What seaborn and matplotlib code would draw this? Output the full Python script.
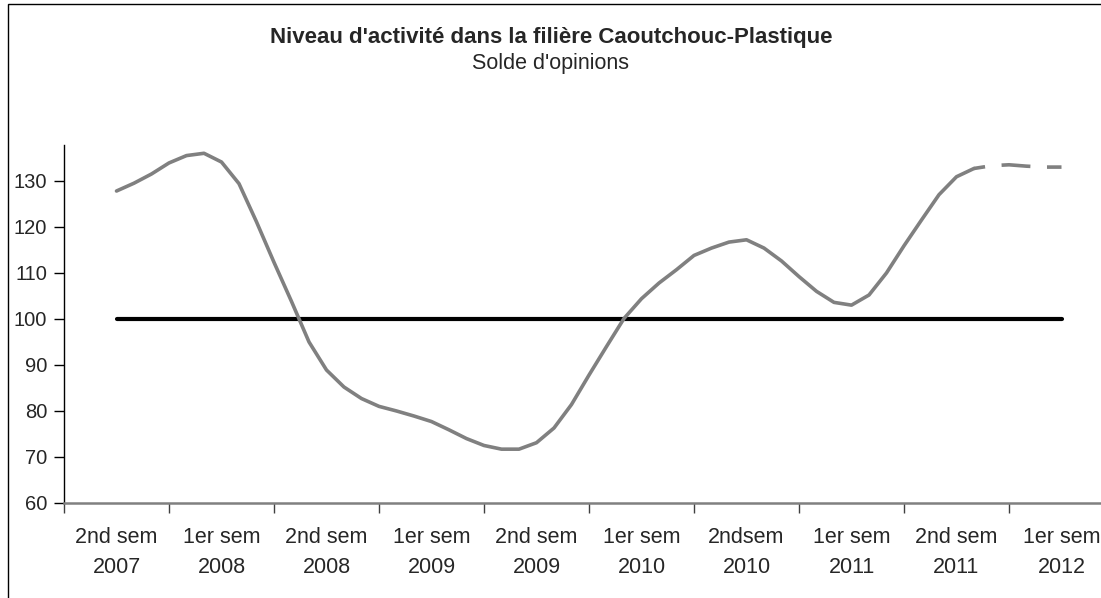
import numpy as np
import pandas as pd
import matplotlib
matplotlib.use("Agg")
import matplotlib.pyplot as plt
import seaborn as sns
from matplotlib.patches import Rectangle

# ---------------- data ----------------
categories = ["2nd sem\n2007", "1er sem\n2008", "2nd sem\n2008", "1er sem\n2009",
              "2nd sem\n2009", "1er sem\n2010", "2ndsem\n2010", "1er sem\n2011",
              "2nd sem\n2011", "1er sem\n2012"]
months = list(range(55))  # monthly points, 6 per semester
activity = [127.8, 129.5, 131.5, 133.9, 135.5, 136.0, 134.1, 129.4, 121.1, 112.3,
            103.8, 95.0, 88.9, 85.2, 82.7, 81.0, 80.0, 78.9, 77.7, 75.9,
            74.0, 72.5, 71.7, 71.7, 73.1, 76.3, 81.4, 87.8, 94.0, 100.1,
            104.4, 107.8, 110.7, 113.8, 115.4, 116.7, 117.2, 115.4, 112.6, 109.2,
            106.0, 103.6, 103.0, 105.2, 110.0, 115.9, 121.5, 127.0, 130.9, 132.7,
            133.3, 133.5, 133.2, 133.0, 133.0]
last_observed_month = 49
reference_level = 100
y_ticks = [60, 70, 80, 90, 100, 110, 120, 130]
title = "Niveau d'activité dans la filière Caoutchouc-Plastique"
subtitle = "Solde d'opinions"

# ---------------- frame ----------------
df = pd.DataFrame({"month": months, "value": activity})
df["x"] = df["month"] / 6.0
observed = df[df["month"] <= last_observed_month]
forecast = df[df["month"] >= last_observed_month]
ref = pd.DataFrame({"x": [0, len(categories) - 1],
                    "value": [reference_level, reference_level]})

sns.set_style("white")
plt.rcParams["font.family"] = ["Liberation Sans", "DejaVu Sans"]

W, H = 1101, 598
fig = plt.figure(figsize=(W / 100, H / 100), dpi=100)
ax = fig.add_axes([64 / W, 1 - 503 / H, (1114 - 64) / W, (503 - 145) / H])

grey = "#808080"
sns.lineplot(data=ref, x="x", y="value", ax=ax, color="black", linewidth=3.0,
             solid_capstyle="round", errorbar=None)
sns.lineplot(data=observed, x="x", y="value", ax=ax, color=grey, linewidth=2.6,
             errorbar=None, solid_joinstyle="round")
sns.lineplot(data=forecast, x="x", y="value", ax=ax, color=grey, linewidth=2.6,
             linestyle=(4.9, (8.0, 4.6)), errorbar=None)

ax.set_xlim(-0.5, len(categories) - 0.5)
ax.set_ylim(60, 137.8)
ax.set_yticks(y_ticks)
ax.set_yticklabels([str(t) for t in y_ticks])
ax.set_xticks(np.arange(-0.5, len(categories) + 0.5, 1.0))
ax.set_xticklabels([])
ax.set_xticks(np.arange(len(categories)), minor=True)
ax.set_xticklabels(categories, minor=True, linespacing=1.6)
ax.tick_params(axis="x", which="major", length=7, width=1, color="#404040",
               direction="out", bottom=True)
ax.tick_params(axis="x", which="minor", length=0, pad=17, labelsize=15.5)
ax.tick_params(axis="y", length=7, width=1, color="black", direction="out",
               left=True, labelsize=14.5, pad=5)
ax.set_xlabel("")
ax.set_ylabel("")
for s in ["top", "right"]:
    ax.spines[s].set_visible(False)
ax.spines["left"].set_color("black")
ax.spines["left"].set_linewidth(1.0)
ax.spines["bottom"].set_color(grey)
ax.spines["bottom"].set_linewidth(1.8)
ax.patch.set_alpha(0)

fig.text(551 / W, 1 - 37 / H, title, ha="center", va="center",
         fontsize=16, fontweight="bold")
fig.text(551 / W, 1 - 64 / H, subtitle, ha="center", va="center", fontsize=15.5)

fig.patches.append(Rectangle((8 / W, -0.1), 1.2, 1 - 4 / H + 0.1,
                             transform=fig.transFigure, fill=False,
                             edgecolor="black", linewidth=1.0))

fig.savefig("out.png", dpi=100)
